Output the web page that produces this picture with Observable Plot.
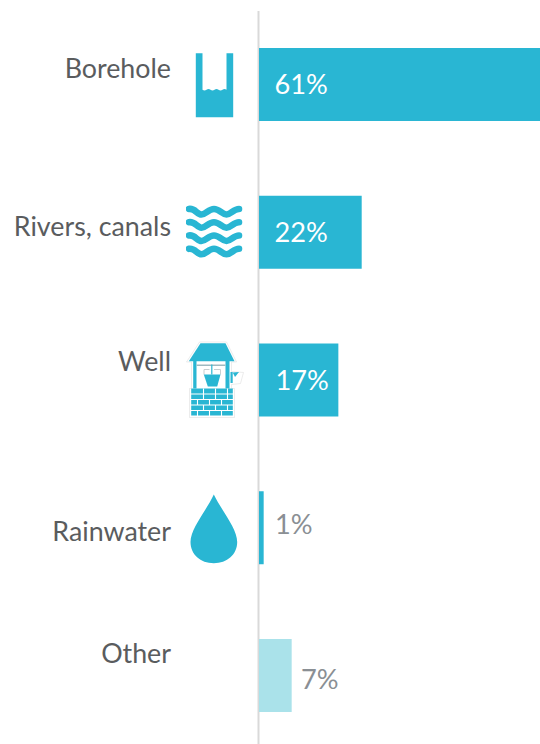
<!DOCTYPE html>
<html>
<head>
<meta charset="utf-8">
<style>html,body{margin:0;padding:0;background:#fff}svg{display:block}</style>
<script src="https://cdn.jsdelivr.net/npm/d3@7"></script>
<script src="https://cdn.jsdelivr.net/npm/@observablehq/plot@0.6"></script>
</head>
<body>
<div id="chart"></div>
<script>
const categories = ["Borehole", "Rivers, canals", "Well", "Rainwater", "Other"];
const shares = [61, 22, 17, 1, 7];
const valueLabels = ["61%", "22%", "17%", "1%", "7%"];

const rows = categories.map((name, i) => ({name, share: shares[i], label: valueLabels[i]}));

const teal = "#29b6d3", pale = "#aae2ea", ink = "#5a5c5e", muted = "#8a8f94";
const barFill = d => d.name === "Other" ? pale : teal;

// label placement relative to each bar centre
const nameDy = [-15.8, -5.5, -18.3, 4, -21.8];
const valueDy = [0.5, 0.5, 0.5, -2.5, 4.5];
const valueDx = [15, 15, 16, 15.5, 41.5];
const valueColor = ["#fff", "#fff", "#fff", muted, muted];

const uri = (box, body) => "data:image/svg+xml;utf8," + encodeURIComponent(
  `<svg xmlns="http://www.w3.org/2000/svg" viewBox="${box}" width="60" height="80">${body}</svg>`);

const waves = [208.5, 221.7, 235, 248.3].map(y =>
  `<path d="M188.5 ${y}c6-1 8 5.5 12.5 5.5s7-5.5 12.5-5.5 8 5.5 12.5 5.5 7-5.5 12.5-5.5" fill="none" stroke="${teal}" stroke-width="6.6" stroke-linecap="round"/>`).join("");

const brickLines = [393.5, 399, 404.5, 410].map((y, i) =>
  `<path d="M190 ${y}H233" stroke="#fff" stroke-width="1.1"/>` +
  [0, 1, 2].map(k => {
    const x = (i % 2 ? 197 : 203) + k * 12;
    return `<path d="M${x} ${y}v5.5" stroke="#fff" stroke-width="1.1"/>`;
  }).join("")).join("") +
  [0, 1, 2].map(k => `<path d="M${203 + k * 12} 388v5.5" stroke="#fff" stroke-width="1.1"/>`).join("");

const wellBody =
  `<path d="M199 341.5H226L236 361.5H231V371L243 372 240 383 231 384V388H234V417H189V388H191V361.5H186Z" fill="#fff" stroke="#e4e4e4" stroke-width="0.7"/>` +
  `<path d="M200 342.7H225L234 360.7H188.3Z" fill="${teal}"/>` +
  `<rect x="192.7" y="360" width="3.3" height="28" fill="${teal}"/>` +
  `<rect x="225" y="360" width="4" height="28" fill="${teal}"/>` +
  `<rect x="196" y="364" width="29" height="1.5" fill="#9fb9c0"/>` +
  `<path d="M211.3 364V374" stroke="${teal}" stroke-width="1.2"/>` +
  `<path d="M203.5 369H209M213.5 369H220M203.5 369V374M220 369V374" stroke="#c8ced0" fill="none" stroke-width="1"/>` +
  `<path d="M203.3 374H220L216.7 386H207.3Z" fill="${teal}"/>` +
  `<rect x="230" y="371.5" width="2.2" height="11" fill="${teal}"/>` +
  `<path d="M232.2 372L238.5 371.5 234.5 376.5Z" fill="${teal}"/>` +
  `<rect x="190.7" y="388" width="41.6" height="27" fill="${teal}"/>` + brickLines;

const icons = [
  {row: "Borehole", cy: 85, body:
    `<path d="M195.3 52.7H202V89.3q2 1.6 4 0t4 0 4 0 4 0 4 0 4 0V52.7H232.7V116.7H195.3Z" fill="${teal}"/>`},
  {row: "Rivers, canals", cy: 228, body: waves},
  {row: "Well", cy: 380, body: wellBody},
  {row: "Rainwater", cy: 528, body:
    `<path d="M213.3 494C206 510 190 528 190 541.5C190 554 200 562.7 213.3 562.7S236.7 554 236.7 541.5C236.7 528 221 510 213.3 494Z" fill="${teal}"/>`}
];
const centres = {"Borehole": 84.5, "Rivers, canals": 232.25, "Well": 380, "Rainwater": 527.75};

const chart = Plot.plot({
  width: 540,
  height: 744,
  marginTop: 11,
  marginBottom: 0,
  marginLeft: 0,
  marginRight: 0,
  style: {background: "#fff"},
  x: {domain: [0, 60.2], range: [259, 540], clamp: true, axis: null},
  y: {domain: categories, range: [48, 712], paddingInner: 0.506, paddingOuter: 0, round: false, axis: null},
  marks: [
    Plot.ruleX([0], {stroke: "#d9d9d9", strokeWidth: 2, dx: -1}),
    Plot.barX(rows, {x: "share", y: "name", fill: barFill}),
    ...rows.map((r, i) => Plot.text([r], {
      y: "name", text: "name", frameAnchor: "right", textAnchor: "end",
      dx: 170.5 - 540, dy: nameDy[i],
      fontFamily: "Lato", fontSize: 26.8, fill: ink
    })),
    ...rows.map((r, i) => Plot.text([r], {
      x: () => 0, y: "name", text: "label", textAnchor: "start",
      dx: valueDx[i], dy: valueDy[i],
      fontFamily: "Lato", fontSize: 27.2, fill: valueColor[i]
    })),
    ...icons.map(ic => Plot.image([ic], {
      y: "row", frameAnchor: "left", dx: 215, dy: ic.cy - centres[ic.row],
      width: 60, height: 80,
      src: uri(`185 ${ic.cy - 40} 60 80`, ic.body)
    }))
  ]
});
document.getElementById("chart").append(chart);
</script>
</body>
</html>
